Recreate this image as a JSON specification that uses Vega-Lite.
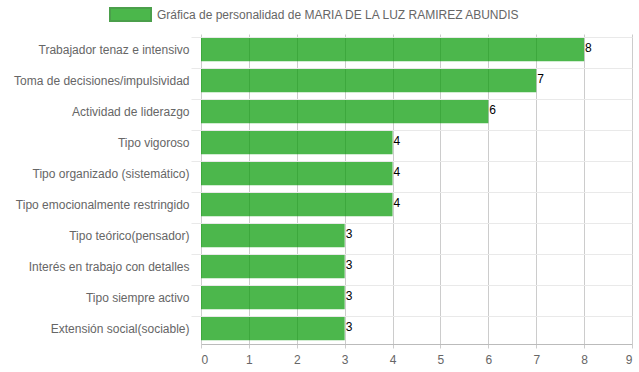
{
  "$schema": "https://vega.github.io/schema/vega-lite/v6.json",
  "width": 431,
  "height": 310,
  "autosize": {"type": "none"},
  "padding": {"left": 201, "top": 34, "right": 7, "bottom": 28},
  "background": "white",
  "config": {
    "view": {"stroke": null},
    "font": "Liberation Sans",
    "axis": {"labelFont": "Liberation Sans", "labelFontSize": 12, "labelColor": "#666666"}
  },
  "data": {
    "values": [
      {"rasgo": "Trabajador tenaz e intensivo", "valor": 8, "serie": "Gráfica de personalidad de MARIA DE LA LUZ RAMIREZ ABUNDIS"},
      {"rasgo": "Toma de decisiones/impulsividad", "valor": 7, "serie": "Gráfica de personalidad de MARIA DE LA LUZ RAMIREZ ABUNDIS"},
      {"rasgo": "Actividad de liderazgo", "valor": 6, "serie": "Gráfica de personalidad de MARIA DE LA LUZ RAMIREZ ABUNDIS"},
      {"rasgo": "Tipo vigoroso", "valor": 4, "serie": "Gráfica de personalidad de MARIA DE LA LUZ RAMIREZ ABUNDIS"},
      {"rasgo": "Tipo organizado (sistemático)", "valor": 4, "serie": "Gráfica de personalidad de MARIA DE LA LUZ RAMIREZ ABUNDIS"},
      {"rasgo": "Tipo emocionalmente restringido", "valor": 4, "serie": "Gráfica de personalidad de MARIA DE LA LUZ RAMIREZ ABUNDIS"},
      {"rasgo": "Tipo teórico(pensador)", "valor": 3, "serie": "Gráfica de personalidad de MARIA DE LA LUZ RAMIREZ ABUNDIS"},
      {"rasgo": "Interés en trabajo con detalles", "valor": 3, "serie": "Gráfica de personalidad de MARIA DE LA LUZ RAMIREZ ABUNDIS"},
      {"rasgo": "Tipo siempre activo", "valor": 3, "serie": "Gráfica de personalidad de MARIA DE LA LUZ RAMIREZ ABUNDIS"},
      {"rasgo": "Extensión social(sociable)", "valor": 3, "serie": "Gráfica de personalidad de MARIA DE LA LUZ RAMIREZ ABUNDIS"}
    ]
  },
  "encoding": {
    "y": {
      "field": "rasgo", "type": "nominal", "sort": null, "title": null,
      "scale": {"paddingInner": 0.25, "paddingOuter": 0.125},
      "axis": {
        "bandPosition": 0, "grid": true, "gridColor": "#e9e9e9",
        "tickColor": "#e9e9e9", "tickSize": 10, "domain": false, "labelPadding": 2
      }
    },
    "x": {
      "field": "valor", "type": "quantitative", "title": null,
      "scale": {"domain": [0, 9], "nice": false},
      "axis": {
        "values": [0, 1, 2, 3, 4, 5, 6, 7, 8, 9], "grid": true, "gridColor": "#cccccc",
        "tickColor": "#cccccc", "tickSize": 4, "domainColor": "#bbbbbb", "labelPadding": 6
      }
    }
  },
  "layer": [
    {
      "mark": {"type": "bar", "fillOpacity": 0.7},
      "encoding": {
        "color": {
          "field": "serie", "type": "nominal", "title": null,
          "scale": {"range": ["#009900"]},
          "legend": {
            "orient": "none", "legendX": -92, "legendY": -41, "direction": "horizontal",
            "symbolType": "M-1,-0.32L1,-0.32L1,0.32L-1,0.32Z", "symbolSize": 1681,
            "symbolOpacity": 0.7, "symbolStrokeColor": "#007700", "symbolStrokeWidth": 2,
            "labelFontSize": 12, "labelColor": "#666666", "labelFont": "Liberation Sans",
            "labelOffset": 5, "labelLimit": 500
          }
        }
      }
    },
    {
      "mark": {"type": "text", "align": "left", "baseline": "middle", "dx": 1, "dy": -2, "fontSize": 12, "color": "black", "font": "Liberation Sans"},
      "encoding": {"text": {"field": "valor", "type": "quantitative"}}
    }
  ]
}
